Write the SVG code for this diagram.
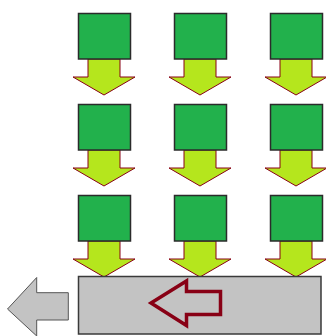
<svg xmlns="http://www.w3.org/2000/svg" width="326" height="336" viewBox="0 0 326 336">
<defs>
<style>
.sq{fill:#22B14C;stroke:#2b2b2b;stroke-width:1.5}
.ar{fill:#B5E61D;stroke:#880015;stroke-width:1}
.box{fill:#C3C3C3;stroke:#3a3a3a;stroke-width:1.5}
.la{fill:#C3C3C3;stroke:#555;stroke-width:1}
.ra{fill:none;stroke:#880015;stroke-width:3.5;stroke-linejoin:miter}
</style>
<path id="dn" class="ar" d="M-16,0 H16 V18 H31 L0,36 L-31,18 H-16 Z"/>
</defs>
<rect width="326" height="336" fill="#fff"/>
<g id="connectors">
<use href="#dn" x="104" y="59"/><use href="#dn" x="200" y="59"/><use href="#dn" x="296" y="59"/>
<use href="#dn" x="104" y="150"/><use href="#dn" x="200" y="150"/><use href="#dn" x="296" y="150"/>
<use href="#dn" x="104" y="241"/><use href="#dn" x="200" y="241"/><use href="#dn" x="296" y="241"/>
</g>
<g id="n11"><rect class="sq" x="78.5" y="13.5" width="52" height="45.5"/></g>
<g id="n12"><rect class="sq" x="174.5" y="13.5" width="52" height="45.5"/></g>
<g id="n13"><rect class="sq" x="270.5" y="13.5" width="52" height="45.5"/></g>
<g id="n21"><rect class="sq" x="78.5" y="104.5" width="52" height="45.5"/></g>
<g id="n22"><rect class="sq" x="174.5" y="104.5" width="52" height="45.5"/></g>
<g id="n23"><rect class="sq" x="270.5" y="104.5" width="52" height="45.5"/></g>
<g id="n31"><rect class="sq" x="78.5" y="195.5" width="52" height="45.5"/></g>
<g id="n32"><rect class="sq" x="174.5" y="195.5" width="52" height="45.5"/></g>
<g id="n33"><rect class="sq" x="270.5" y="195.5" width="52" height="45.5"/></g>
<g id="base">
<rect class="box" x="78.5" y="276.5" width="242.5" height="57.5"/>
<path class="ra" d="M151,303 L186.5,281 V291.5 H220.5 V314.5 H186.5 V325.5 Z"/>
</g>
<g id="out">
<path class="la" d="M7.5,309 L36.7,277.5 V292.7 H68.3 V320 H36.7 V336 Z"/>
</g>
</svg>
